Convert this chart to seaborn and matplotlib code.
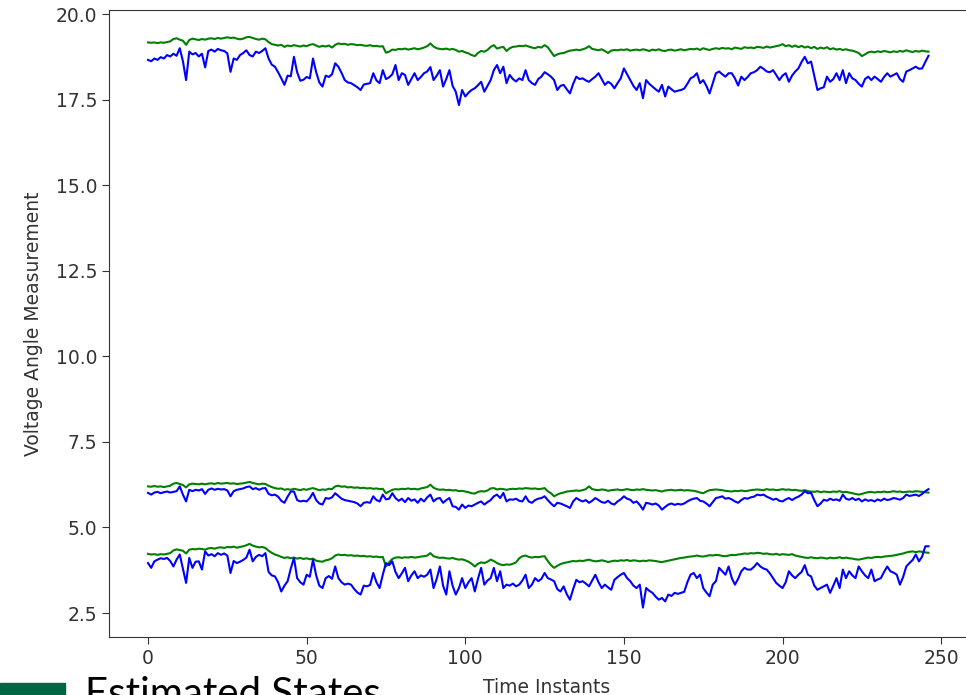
import matplotlib
matplotlib.use("Agg")
import matplotlib.pyplot as plt
import matplotlib.patches as mpatches
import numpy as np
import pandas as pd
import seaborn as sns

# ---------------- data ----------------
time_instants = list(range(247))

estimated_top = [
    19.17, 19.16, 19.17, 19.15, 19.17, 19.16, 19.18, 19.20, 19.27, 19.29,
    19.25, 19.22, 19.10, 19.24, 19.28, 19.26, 19.24, 19.27, 19.25, 19.28,
    19.29, 19.27, 19.30, 19.28, 19.30, 19.32, 19.30, 19.31, 19.28, 19.26,
    19.28, 19.32, 19.33, 19.30, 19.27, 19.25, 19.28, 19.26, 19.18, 19.12,
    19.10, 19.08, 19.10, 19.04, 19.08, 19.06, 19.09, 19.07, 19.05, 19.08,
    19.06, 19.10, 19.12, 19.08, 19.04, 19.07, 19.05, 19.08, 19.02, 19.10,
    19.14, 19.12, 19.13, 19.10, 19.12, 19.11, 19.09, 19.10, 19.08, 19.07,
    19.09, 19.06, 19.07, 19.05, 19.06, 18.87, 18.90, 18.96, 18.95, 18.98,
    18.97, 18.99, 18.96, 18.98, 19.00, 18.97, 18.99, 19.02, 19.06, 19.14,
    19.05, 19.00, 18.98, 18.97, 18.99, 18.96, 18.98, 18.95, 18.90, 18.92,
    18.88, 18.85, 18.80, 18.77, 18.86, 18.92, 18.90, 18.95, 19.04, 19.09,
    18.99, 19.02, 19.04, 18.92, 19.00, 19.04, 19.05, 19.07, 19.06, 19.08,
    19.05, 19.02, 19.00, 19.04, 19.02, 19.09, 19.03, 18.90, 18.77, 18.82,
    18.85, 18.86, 18.90, 18.93, 18.94, 18.96, 18.94, 18.97, 19.00, 19.06,
    18.98, 18.96, 18.94, 18.97, 18.92, 18.86, 18.93, 18.95, 18.94, 18.96,
    18.95, 18.97, 18.93, 18.95, 18.96, 18.94, 18.97, 18.95, 18.92, 18.96,
    18.94, 18.97, 18.93, 18.92, 18.95, 18.96, 18.93, 18.95, 18.97, 18.94,
    18.96, 18.98, 18.97, 18.99, 18.95, 19.00, 18.97, 18.95, 18.98, 19.00,
    18.98, 19.01, 18.99, 19.00, 18.97, 19.02, 19.00, 18.98, 19.03, 19.01,
    19.02, 19.00, 19.04, 19.03, 19.01, 19.05, 19.02, 19.04, 19.06, 19.08,
    19.12, 19.06, 19.09, 19.04, 19.08, 19.03, 19.07, 19.02, 19.05, 19.00,
    19.04, 18.98, 19.02, 18.99, 19.03, 18.97, 19.00, 18.96, 18.98, 18.95,
    18.97, 18.94, 18.93, 18.90, 18.86, 18.77, 18.82, 18.88, 18.90, 18.88,
    18.91, 18.89, 18.92, 18.90, 18.88, 18.91, 18.89, 18.92, 18.90, 18.94,
    18.91, 18.89, 18.92, 18.90, 18.93, 18.91, 18.90,
]

measured_top = [
    18.66, 18.62, 18.70, 18.66, 18.74, 18.70, 18.80, 18.76, 18.84, 18.78,
    19.00, 18.62, 18.07, 18.90, 18.82, 18.86, 18.76, 18.84, 18.44, 18.92,
    18.96, 18.90, 18.98, 18.94, 18.92, 18.85, 18.31, 18.70, 18.66, 18.80,
    18.86, 18.94, 18.80, 18.76, 18.90, 18.86, 18.92, 19.00, 18.70, 18.52,
    18.46, 18.30, 18.12, 17.93, 18.20, 18.18, 18.75, 18.30, 18.05, 18.08,
    18.16, 18.12, 18.70, 18.30, 18.00, 17.88, 18.20, 18.16, 18.24, 18.56,
    18.46, 18.28, 18.07, 18.00, 17.98, 17.92, 17.86, 17.78, 17.94, 17.96,
    17.98, 18.27, 18.06, 17.98, 18.36, 18.10, 18.15, 18.24, 18.51, 18.07,
    18.27, 18.22, 17.93, 18.10, 18.27, 18.07, 18.16, 18.27, 18.32, 18.45,
    18.07, 18.20, 18.36, 17.88, 18.10, 18.36, 17.90, 17.73, 17.34, 17.78,
    17.59, 17.70, 17.78, 17.83, 17.92, 18.02, 17.73, 17.90, 18.07, 18.36,
    18.51, 18.27, 18.46, 17.98, 18.22, 18.10, 18.03, 18.12, 18.07, 18.36,
    18.07, 17.98, 17.93, 18.10, 18.17, 18.30, 18.24, 18.17, 18.07, 17.78,
    17.90, 17.93, 17.80, 17.68, 17.96, 18.17, 18.10, 18.12, 18.06, 18.02,
    18.10, 18.17, 18.27, 18.10, 17.93, 18.02, 17.96, 17.83, 17.98, 18.12,
    18.41, 18.24, 18.07, 17.90, 17.78, 17.98, 17.54, 18.07, 17.96, 17.88,
    17.80, 17.73, 17.93, 17.59, 17.88, 17.80, 17.73, 17.76, 17.78, 17.82,
    17.96, 18.12, 18.17, 18.27, 17.98, 18.07, 17.90, 17.68, 17.98, 18.27,
    18.32, 18.24, 18.17, 18.27, 18.27, 18.12, 17.91, 18.17, 18.07, 18.16,
    18.27, 18.30, 18.36, 18.46, 18.40, 18.32, 18.30, 18.36, 18.22, 18.07,
    18.20, 18.27, 18.02, 18.20, 18.32, 18.41, 18.60, 18.75, 18.56, 18.61,
    18.20, 17.78, 17.83, 17.86, 18.17, 18.02, 18.10, 18.27, 18.07, 18.36,
    17.98, 18.27, 18.12, 18.07, 17.96, 17.88, 18.10, 18.17, 18.07, 18.17,
    18.10, 18.02, 18.16, 18.27, 18.17, 18.22, 18.27, 18.10, 18.02, 18.32,
    18.36, 18.41, 18.46, 18.40, 18.41, 18.60, 18.78,
]

estimated_mid = [
    6.20, 6.19, 6.21, 6.19, 6.20, 6.18, 6.20, 6.22, 6.28, 6.30,
    6.27, 6.24, 6.17, 6.26, 6.28, 6.27, 6.26, 6.28, 6.26, 6.28,
    6.29, 6.27, 6.30, 6.28, 6.29, 6.30, 6.28, 6.29, 6.27, 6.28,
    6.29, 6.31, 6.33, 6.30, 6.28, 6.26, 6.28, 6.27, 6.22, 6.18,
    6.15, 6.13, 6.14, 6.10, 6.12, 6.10, 6.13, 6.11, 6.09, 6.12,
    6.10, 6.13, 6.15, 6.12, 6.09, 6.11, 6.10, 6.13, 6.12, 6.20,
    6.22, 6.19, 6.20, 6.17, 6.18, 6.16, 6.17, 6.15, 6.16, 6.14,
    6.15, 6.13, 6.14, 6.12, 6.13, 6.00, 6.05, 6.10, 6.12, 6.11,
    6.13, 6.12, 6.14, 6.12, 6.13, 6.11, 6.14, 6.16, 6.18, 6.25,
    6.16, 6.12, 6.10, 6.11, 6.09, 6.10, 6.08, 6.09, 6.06, 6.07,
    6.05, 6.03, 6.00, 5.99, 6.04, 6.06, 6.05, 6.08, 6.14, 6.15,
    6.11, 6.13, 6.12, 6.10, 6.12, 6.13, 6.12, 6.14, 6.13, 6.15,
    6.14, 6.13, 6.14, 6.12, 6.13, 6.15, 6.06, 6.00, 5.91, 5.96,
    6.00, 6.02, 6.05, 6.06, 6.07, 6.08, 6.07, 6.09, 6.12, 6.20,
    6.12, 6.10, 6.09, 6.11, 6.10, 6.07, 6.09, 6.10, 6.11, 6.09,
    6.10, 6.12, 6.10, 6.09, 6.11, 6.10, 6.12, 6.10, 6.09, 6.08,
    6.09, 6.07, 6.05, 6.08, 6.09, 6.10, 6.08, 6.09, 6.10, 6.08,
    6.09, 6.08, 6.07, 6.05, 6.02, 6.00, 6.05, 6.09, 6.10, 6.11,
    6.10, 6.09, 6.07, 6.06, 6.05, 6.07, 6.06, 6.08, 6.06, 6.07,
    6.09, 6.10, 6.11, 6.10, 6.09, 6.12, 6.10, 6.11, 6.09, 6.10,
    6.12, 6.10, 6.11, 6.09, 6.10, 6.08, 6.07, 6.09, 6.06, 6.05,
    6.04, 6.06, 6.03, 6.05, 6.04, 6.03, 6.05, 6.04, 6.06, 6.03,
    6.04, 6.02, 6.00, 5.98, 5.96, 5.98, 6.01, 6.03, 6.04, 6.02,
    6.04, 6.03, 6.05, 6.03, 6.04, 6.06, 6.04, 6.05, 6.03, 6.04,
    6.05, 6.04, 6.06, 6.05, 6.04, 6.03, 6.02,
]

measured_mid = [
    6.01, 5.96, 6.02, 6.04, 6.00, 6.03, 6.05, 6.02, 6.04, 6.06,
    6.20, 5.96, 5.76, 6.10, 6.06, 6.10, 6.08, 6.12, 5.98, 6.10,
    6.14, 6.10, 6.13, 6.11, 6.12, 6.08, 5.91, 6.06, 6.10, 6.12,
    6.14, 6.18, 6.20, 6.12, 6.15, 6.10, 6.14, 6.15, 5.98, 5.94,
    5.96, 5.90, 5.78, 5.72, 5.90, 6.05, 6.05, 5.80, 5.76, 5.78,
    5.76, 5.86, 6.01, 5.80, 5.70, 5.67, 5.86, 5.84, 5.88, 6.00,
    5.92, 5.84, 5.80, 5.78, 5.76, 5.74, 5.70, 5.62, 5.72, 5.74,
    5.72, 5.91, 5.80, 5.76, 5.96, 5.82, 5.84, 6.00, 5.86, 5.78,
    5.84, 5.74, 5.86, 5.78, 5.82, 5.72, 5.84, 5.76, 5.88, 5.96,
    5.76, 5.84, 5.86, 5.72, 5.80, 5.86, 5.62, 5.60, 5.52, 5.67,
    5.57, 5.64, 5.62, 5.67, 5.72, 5.76, 5.67, 5.74, 5.80, 5.91,
    5.96, 5.86, 6.01, 5.76, 5.82, 5.81, 5.84, 5.78, 5.76, 5.91,
    5.76, 5.72, 5.80, 5.84, 5.86, 5.91, 5.80, 5.70, 5.62, 5.72,
    5.70, 5.66, 5.62, 5.57, 5.76, 5.86, 5.80, 5.76, 5.80, 5.72,
    5.78, 5.86, 5.80, 5.74, 5.72, 5.78, 5.70, 5.67, 5.76, 5.82,
    5.91, 5.84, 5.81, 5.72, 5.76, 5.66, 5.52, 5.72, 5.70, 5.67,
    5.70, 5.64, 5.52, 5.60, 5.67, 5.70, 5.66, 5.69, 5.67, 5.70,
    5.76, 5.81, 5.84, 5.86, 5.78, 5.76, 5.70, 5.62, 5.74, 5.86,
    5.88, 5.91, 5.84, 5.86, 5.82, 5.76, 5.72, 5.80, 5.86, 5.84,
    5.88, 5.90, 5.96, 5.94, 5.96, 5.90, 5.86, 5.81, 5.84, 5.78,
    5.76, 5.82, 5.86, 5.80, 5.86, 5.90, 5.96, 6.06, 6.00, 6.01,
    5.80, 5.62, 5.70, 5.81, 5.78, 5.84, 5.80, 5.82, 5.78, 5.96,
    5.84, 5.81, 5.86, 5.80, 5.84, 5.76, 5.82, 5.78, 5.80, 5.76,
    5.82, 5.78, 5.84, 5.80, 5.82, 5.86, 5.84, 5.81, 5.86, 5.96,
    5.92, 5.94, 5.96, 5.92, 5.98, 6.06, 6.12,
]

estimated_low = [
    4.23, 4.21, 4.22, 4.20, 4.22, 4.21, 4.23, 4.25, 4.33, 4.36,
    4.34, 4.32, 4.24, 4.35, 4.37, 4.36, 4.38, 4.37, 4.35, 4.39,
    4.40, 4.38, 4.41, 4.42, 4.40, 4.43, 4.42, 4.44, 4.41, 4.43,
    4.45, 4.48, 4.52, 4.47, 4.44, 4.42, 4.43, 4.40, 4.32, 4.26,
    4.21, 4.18, 4.14, 4.11, 4.13, 4.10, 4.12, 4.09, 4.11, 4.08,
    4.10, 4.07, 4.09, 4.03, 4.01, 4.00, 4.04, 4.06, 4.10, 4.18,
    4.21, 4.19, 4.20, 4.18, 4.19, 4.17, 4.18, 4.16, 4.17, 4.15,
    4.16, 4.14, 4.15, 4.13, 4.14, 3.86, 3.98, 4.08, 4.12, 4.13,
    4.11, 4.13, 4.12, 4.14, 4.12, 4.13, 4.15, 4.16, 4.18, 4.25,
    4.16, 4.13, 4.11, 4.12, 4.10, 4.09, 4.11, 4.08, 4.06, 4.07,
    4.04, 4.00, 3.94, 3.86, 3.94, 3.98, 3.96, 4.00, 4.06, 4.02,
    3.96, 3.92, 3.90, 3.92, 3.91, 3.94, 3.98, 4.10, 4.16, 4.18,
    4.14, 4.12, 4.14, 4.13, 4.15, 4.16, 4.02, 3.90, 3.82, 3.88,
    3.93, 3.96, 3.98, 4.00, 4.02, 4.01, 4.03, 4.02, 4.04, 4.06,
    4.03, 4.01, 4.02, 4.04, 4.02, 3.99, 4.01, 4.03, 4.02, 4.04,
    4.03, 4.05, 4.02, 4.04, 4.03, 4.01, 4.03, 4.02, 4.04, 4.03,
    4.02, 4.00, 3.99, 4.01, 4.03, 4.05, 4.07, 4.09, 4.11, 4.12,
    4.14, 4.15, 4.16, 4.18, 4.16, 4.15, 4.17, 4.19, 4.18, 4.20,
    4.19, 4.17, 4.16, 4.18, 4.20, 4.19, 4.21, 4.22, 4.24, 4.23,
    4.25, 4.24, 4.26, 4.25, 4.23, 4.24, 4.22, 4.21, 4.23, 4.20,
    4.22, 4.21, 4.20, 4.22, 4.18, 4.16, 4.14, 4.12, 4.11, 4.13,
    4.11, 4.10, 4.12, 4.11, 4.09, 4.12, 4.10, 4.11, 4.13, 4.10,
    4.12, 4.10, 4.09, 4.07, 4.06, 4.08, 4.10, 4.12, 4.11, 4.13,
    4.14, 4.13, 4.15, 4.16, 4.17, 4.18, 4.20, 4.22, 4.24, 4.27,
    4.29, 4.30, 4.28, 4.30, 4.29, 4.27, 4.26,
]

measured_low = [
    3.96, 3.82, 4.01, 4.06, 4.10, 4.08, 4.11, 4.02, 3.86, 4.06,
    4.21, 3.80, 3.38, 4.11, 3.82, 4.00, 4.01, 3.77, 4.30, 4.18,
    4.22, 4.16, 4.25, 4.20, 4.24, 4.18, 3.67, 4.02, 3.96, 4.00,
    4.05, 4.12, 4.35, 4.01, 4.14, 4.20, 4.16, 4.25, 3.70, 3.60,
    3.57, 3.40, 3.13, 3.30, 3.43, 3.80, 4.11, 3.52, 3.40, 3.33,
    3.62, 3.56, 4.06, 3.60, 3.30, 3.23, 3.52, 3.58, 3.50, 3.86,
    3.52, 3.40, 3.33, 3.36, 3.33, 3.20, 3.10, 3.04, 3.30, 3.28,
    3.32, 3.67, 3.40, 3.23, 3.62, 3.96, 3.90, 4.01, 3.70, 3.52,
    3.66, 3.82, 3.43, 3.60, 3.72, 3.52, 3.60, 3.56, 3.62, 3.77,
    3.23, 3.50, 3.86, 3.30, 3.04, 3.72, 3.30, 3.04, 3.23, 3.52,
    3.23, 3.40, 3.52, 3.13, 3.50, 3.82, 3.33, 3.45, 3.52, 3.82,
    3.43, 3.72, 3.23, 3.33, 3.30, 3.36, 3.28, 3.33, 3.45, 3.62,
    3.23, 3.33, 3.52, 3.43, 3.50, 3.67, 3.52, 3.48, 3.43, 3.20,
    3.13, 3.28, 3.05, 2.89, 3.20, 3.47, 3.40, 3.43, 3.36, 3.28,
    3.45, 3.62, 3.40, 3.23, 3.33, 3.25, 3.18, 3.47, 3.55, 3.62,
    3.67, 3.52, 3.43, 3.30, 3.23, 3.33, 2.66, 3.23, 3.15, 3.09,
    2.98, 2.89, 2.94, 2.84, 3.04, 3.00, 3.09, 3.06, 3.09, 3.12,
    3.40, 3.62, 3.67, 3.52, 3.62, 3.23, 3.10, 2.99, 3.33, 3.43,
    3.82, 3.72, 3.62, 3.86, 3.52, 3.33, 3.50, 3.72, 3.82, 3.77,
    3.77, 3.85, 3.96, 3.86, 3.80, 3.77, 3.66, 3.52, 3.38, 3.30,
    3.23, 3.40, 3.72, 3.60, 3.52, 3.62, 3.70, 3.90, 3.62, 3.57,
    3.30, 3.18, 3.23, 3.28, 3.33, 3.09, 3.30, 3.52, 3.23, 3.77,
    3.52, 3.72, 3.60, 3.52, 3.86, 3.72, 3.60, 3.52, 3.77, 3.43,
    3.48, 3.52, 3.70, 3.86, 3.72, 3.68, 3.62, 3.33, 3.55, 3.86,
    3.96, 4.05, 4.21, 4.01, 4.15, 4.45, 4.45,
]

x_ticks = [0, 50, 100, 150, 200, 250]
y_ticks = [2.5, 5.0, 7.5, 10.0, 12.5, 15.0, 17.5, 20.0]
x_label = "Time Instants"
y_label = "Voltage Angle Measurement"
caption = "Estimated States"

series = [
    ("estimated_low", estimated_low, "green"),
    ("estimated_mid", estimated_mid, "green"),
    ("estimated_top", estimated_top, "green"),
    ("measured_low", measured_low, "blue"),
    ("measured_mid", measured_mid, "blue"),
    ("measured_top", measured_top, "blue"),
]

# ---------------- figure ----------------
fig = plt.figure(figsize=(9.66, 6.95), dpi=100)
ax = fig.add_axes([109 / 966, 58 / 695, 875 / 966, 627 / 695])

for name, vals, col in series:
    df = pd.DataFrame({"t": time_instants, "v": vals})
    sns.lineplot(data=df, x="t", y="v", color=col, linewidth=1.5, ax=ax)

ax.set_xlim(-12.3, 263.5)
ax.set_ylim(1.80, 20.117)
ax.set_xticks(x_ticks)
ax.set_yticks(y_ticks)
ax.set_yticklabels([f"{v:.1f}" for v in y_ticks])
ax.tick_params(labelsize=13.5, colors="#333333", length=5)
for s in ax.spines.values():
    s.set_color("#333333")
ax.set_xlabel(x_label, fontsize=13.5, color="#333333", labelpad=7)
ax.set_ylabel(y_label, fontsize=13.5, color="#333333", labelpad=9)

# overlay fragment at the bottom-left (slide caption partly cut off)
fig.patches.append(mpatches.Rectangle((0, 0), 65 / 966, 12 / 695,
                                      transform=fig.transFigure,
                                      color="#006643", zorder=5))
fig.text(85 / 966, -11 / 695, caption, fontsize=29, family="Lato",
         color="black", va="baseline", ha="left")

fig.savefig("out.png", dpi=100)
